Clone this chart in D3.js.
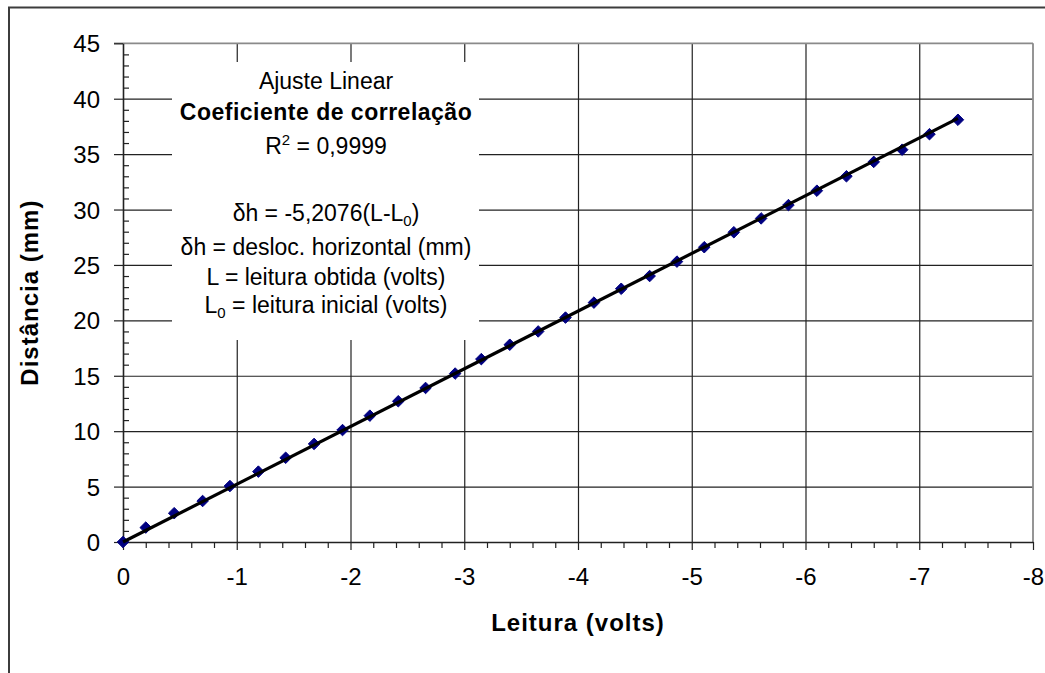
<!DOCTYPE html>
<html>
<head>
<meta charset="utf-8">
<script src="https://cdn.jsdelivr.net/npm/d3@7"></script>
<style>
  html, body { margin: 0; padding: 0; background: #fff; }
  svg { display: block; }
  text { font-family: "Liberation Sans", Arial, sans-serif; fill: #000; }
</style>
</head>
<body>
<div id="chart"></div>
<script>
// ---- data ----
const leitura = [0, -0.20, -0.45, -0.70, -0.94, -1.19, -1.43, -1.68, -1.93, -2.17,
  -2.42, -2.66, -2.92, -3.15, -3.40, -3.65, -3.89, -4.14, -4.38, -4.63,
  -4.87, -5.11, -5.37, -5.61, -5.85, -6.10, -6.36, -6.60, -6.85, -7.09, -7.34];
const distancia = [0, 1.3, 2.6, 3.7, 5.05, 6.35, 7.6, 8.85, 10.1, 11.4,
  12.7, 13.9, 15.2, 16.5, 17.8, 19.0, 20.25, 21.6, 22.85, 24.0,
  25.3, 26.6, 27.95, 29.2, 30.4, 31.7, 33.0, 34.3, 35.4, 36.8, 38.1];
const fitSlope = -5.2076;
const xTicks = [0, -1, -2, -3, -4, -5, -6, -7, -8];
const yTicks = [0, 5, 10, 15, 20, 25, 30, 35, 40, 45];
const xTitle = "Leitura (volts)";
const yTitle = "Distância (mm)";

const W = 1045, H = 673;
const svg = d3.select("#chart").append("svg").attr("width", W).attr("height", H);
svg.append("rect").attr("width", W).attr("height", H).attr("fill", "#fff");

// outer chart border (extends beyond the picture at right/bottom)
svg.append("rect").attr("x", 9).attr("y", 7.5).attr("width", 1100).attr("height", 700)
  .attr("fill", "none").attr("stroke", "#3c3c3c").attr("stroke-width", 2);

const L = 123, R = 1033, T = 43.3, B = 542;
const x = d3.scaleLinear().domain([0, -8]).range([L, R]);
const y = d3.scaleLinear().domain([0, 45]).range([B, T]);

// grid lines
const gy = svg.append("g").attr("transform", `translate(${L},0)`)
  .call(d3.axisLeft(y).tickValues(yTicks.filter(v => v > 0 && v < 45)).tickSize(-(R - L)).tickFormat(""));
gy.select(".domain").remove();
gy.selectAll("line").attr("stroke", "#222").attr("stroke-width", 1.2);

const gx = svg.append("g").attr("transform", `translate(0,${B})`)
  .call(d3.axisBottom(x).tickValues(xTicks.filter(v => v < 0 && v > -8)).tickSize(-(B - T)).tickFormat(""));
gx.select(".domain").remove();
gx.selectAll("line").attr("stroke", "#222").attr("stroke-width", 1.2);

// text box (white, hides grid lines)
svg.append("rect").attr("x", 172).attr("y", 62).attr("width", 307).attr("height", 278).attr("fill", "#fff");

// plot border top & right
svg.append("line").attr("x1", L - 9).attr("x2", R).attr("y1", T).attr("y2", T)
  .attr("stroke", "#8a8a8a").attr("stroke-width", 1.8);
svg.append("line").attr("x1", R).attr("x2", R).attr("y1", T).attr("y2", B)
  .attr("stroke", "#8a8a8a").attr("stroke-width", 1.8);

// minor ticks
const yMinor = d3.range(1, 45).filter(v => v % 5 !== 0);
const gym = svg.append("g").attr("transform", `translate(${L},0)`)
  .call(d3.axisRight(y).tickValues(yMinor).tickSize(6).tickFormat(""));
gym.select(".domain").remove();
gym.selectAll("line").attr("stroke", "#222").attr("stroke-width", 1.2);

const xMinor = d3.range(1, 40).filter(i => i % 5 !== 0).map(i => -i * 0.2);
const gxm = svg.append("g").attr("transform", `translate(0,${B})`)
  .call(d3.axisBottom(x).tickValues(xMinor).tickSize(6).tickFormat(""));
gxm.select(".domain").remove();
gxm.selectAll("line").attr("stroke", "#222").attr("stroke-width", 1.2);

// main axes
const ay = svg.append("g").attr("transform", `translate(${L},0)`)
  .call(d3.axisLeft(y).tickValues(yTicks).tickSize(9).tickSizeOuter(0).tickPadding(14).tickFormat(d3.format("d")));
ay.select(".domain").attr("stroke", "#222").attr("stroke-width", 1.6);
ay.selectAll("line").attr("stroke", "#222").attr("stroke-width", 1.2);
ay.selectAll("text").attr("font-size", 24).attr("dy", "0.36em")
  .attr("font-family", "'Liberation Sans', Arial, sans-serif").attr("fill", "#000");

const ax = svg.append("g").attr("transform", `translate(0,${B})`)
  .call(d3.axisBottom(x).tickValues(xTicks).tickSize(8).tickSizeOuter(0).tickPadding(18).tickFormat(d => d3.format("d")(d).replace("−", "-")));
ax.select(".domain").attr("stroke", "#222").attr("stroke-width", 1.6);
ax.selectAll("line").attr("stroke", "#222").attr("stroke-width", 1.2);
ax.selectAll("text").attr("font-size", 24)
  .attr("font-family", "'Liberation Sans', Arial, sans-serif").attr("fill", "#000");

// axis titles
svg.append("text").attr("x", (L + R) / 2).attr("y", 630.5).attr("text-anchor", "middle")
  .attr("font-size", 24).attr("font-weight", "bold").attr("letter-spacing", 1).text(xTitle);
svg.append("text").attr("transform", `translate(38,${(T + B) / 2}) rotate(-90)`).attr("text-anchor", "middle")
  .attr("font-size", 24).attr("font-weight", "bold").attr("letter-spacing", 1).text(yTitle);

// markers
const pts = leitura.map((v, i) => ({ x: v, y: distancia[i] }));
svg.append("g").selectAll("path").data(pts).join("path")
  .attr("transform", d => `translate(${x(d.x)},${y(d.y)})`)
  .attr("d", d3.symbol(d3.symbolDiamond2, 85)())
  .attr("fill", "#000080").attr("stroke", "#000080").attr("stroke-width", 1);

// linear fit line
const xEnd = d3.min(leitura);
svg.append("line")
  .attr("x1", x(0)).attr("y1", y(0))
  .attr("x2", x(xEnd)).attr("y2", y(fitSlope * xEnd))
  .attr("stroke", "#000").attr("stroke-width", 3.2);

// annotation text
const cx = 326;
const tb = svg.append("g").attr("font-size", 23);
tb.append("text").attr("x", cx).attr("y", 89).attr("text-anchor", "middle").text("Ajuste Linear");
tb.append("text").attr("x", cx).attr("y", 120).attr("text-anchor", "middle")
  .attr("font-weight", "bold").attr("letter-spacing", 0.5).text("Coeficiente de correlação");
const r2 = tb.append("text").attr("x", cx).attr("y", 154).attr("text-anchor", "middle");
r2.append("tspan").text("R");
r2.append("tspan").attr("font-size", 15).attr("dy", -9).text("2");
r2.append("tspan").attr("dy", 9).text(" = 0,9999");
const e1 = tb.append("text").attr("x", cx).attr("y", 221).attr("text-anchor", "middle");
e1.append("tspan").text("δh = -5,2076(L-L");
e1.append("tspan").attr("font-size", 15).attr("dy", 5).text("0");
e1.append("tspan").attr("dy", -5).text(")");
tb.append("text").attr("x", cx).attr("y", 255).attr("text-anchor", "middle").text("δh = desloc. horizontal (mm)");
tb.append("text").attr("x", cx).attr("y", 285).attr("text-anchor", "middle").text("L = leitura obtida (volts)");
const e4 = tb.append("text").attr("x", cx).attr("y", 313).attr("text-anchor", "middle");
e4.append("tspan").text("L");
e4.append("tspan").attr("font-size", 15).attr("dy", 5).text("0");
e4.append("tspan").attr("dy", -5).text(" = leitura inicial (volts)");
</script>
</body>
</html>
